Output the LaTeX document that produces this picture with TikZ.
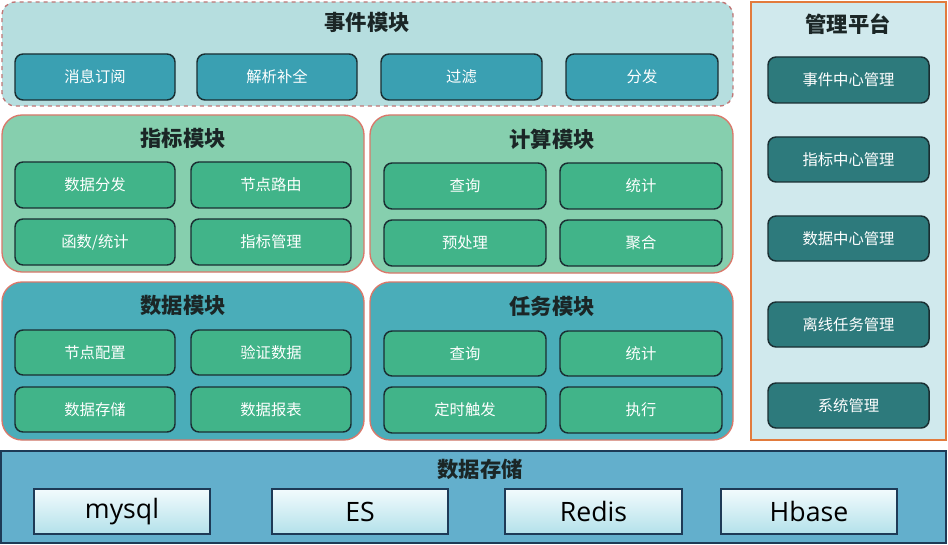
\documentclass[tikz,border=0pt]{standalone}
\usepackage{fontspec}
\setmainfont{Noto Sans CJK SC}
\newfontfamily\latinfont{Open Sans}
\definecolor{evtFill}{HTML}{B6DEDF}
\definecolor{evtBtn}{HTML}{3AA0B2}
\definecolor{evtBorder}{HTML}{C07676}
\definecolor{grnFill}{HTML}{86CFAE}
\definecolor{grnBtn}{HTML}{41B489}
\definecolor{tealFill}{HTML}{4AADB9}
\definecolor{modBorder}{HTML}{D9786A}
\definecolor{mgmtFill}{HTML}{D0E9ED}
\definecolor{mgmtBtn}{HTML}{2D7A7C}
\definecolor{mgmtBorder}{HTML}{E27B3D}
\definecolor{storeFill}{HTML}{63AFCC}
\definecolor{storeBorder}{HTML}{1E3A56}
\definecolor{storeTop}{HTML}{F2FBFD}
\definecolor{storeBot}{HTML}{B3E1EA}
\definecolor{btnBorder}{HTML}{1A2E32}
\definecolor{titleCol}{HTML}{1B2626}
\tikzset{
  box/.style={inner sep=0pt, outer sep=0pt},
  evtframe/.style={box, fill=evtFill, draw=evtBorder, dashed, line width=1pt, rounded corners=10pt},
  grnframe/.style={box, fill=grnFill, draw=modBorder, line width=1pt, rounded corners=15pt},
  tealframe/.style={box, fill=tealFill, draw=modBorder, line width=1pt, rounded corners=15pt},
  mgmtframe/.style={box, fill=mgmtFill, draw=mgmtBorder, line width=1.5pt},
  storeframe/.style={box, fill=storeFill, draw=storeBorder, line width=1.3pt},
  evtbtn/.style={box, fill=evtBtn, draw=btnBorder, line width=1.1pt, rounded corners=6pt, text=white, font=\fontsize{11.5}{13}\selectfont},
  grnbtn/.style={box, fill=grnBtn, draw=btnBorder, line width=1.1pt, rounded corners=6pt, text=white, font=\fontsize{11.5}{13}\selectfont},
  mgmtbtn/.style={box, fill=mgmtBtn, draw=btnBorder, line width=1.1pt, rounded corners=6pt, text=white, font=\fontsize{11.5}{13}\selectfont},
  storebtn/.style={box, top color=storeTop, bottom color=storeBot, draw=storeBorder, line width=1.1pt, text=black, font=\latinfont\fontsize{20}{22}\selectfont},
  title/.style={text=titleCol, font=\bfseries\fontsize{16}{18}\selectfont, inner sep=0pt},
}
% #1 style, #2 x1, #3 y1, #4 x2, #5 y2, #6 name, #7 text
\newcommand\pxbox[7]{\node[#1, minimum width={(#4-#2)*0.75pt}, minimum height={(#5-#3)*0.75pt}] (#6) at ({(#2+#4)/2},{(#3+#5)/2}) {#7};}
\begin{document}
\begin{tikzpicture}[x=0.75pt,y=-0.75pt]
\path[use as bounding box, fill=white] (0,0) rectangle (948,545);
% event module
\pxbox{evtframe}{2}{2}{733}{106}{evt}{}
\node[title] (evtT) at (367,22) {事件模块};
\pxbox{evtbtn}{15}{54}{175}{100}{e1}{消息订阅}
\pxbox{evtbtn}{197}{54}{357}{100}{e2}{解析补全}
\pxbox{evtbtn}{381}{54}{542}{100}{e3}{过滤}
\pxbox{evtbtn}{566}{54}{718}{100}{e4}{分发}
% indicator module
\pxbox{grnframe}{2}{115}{364}{272}{ind}{}
\node[title] (indT) at (183,138) {指标模块};
\pxbox{grnbtn}{15}{162}{175}{208}{i1}{数据分发}
\pxbox{grnbtn}{191}{162}{351}{208}{i2}{节点路由}
\pxbox{grnbtn}{15}{219}{175}{265}{i3}{函数/统计}
\pxbox{grnbtn}{191}{219}{351}{265}{i4}{指标管理}
% compute module
\pxbox{grnframe}{370}{115}{733}{273}{cmp}{}
\node[title] (cmpT) at (552,139) {计算模块};
\pxbox{grnbtn}{384}{163}{546}{209}{c1}{查询}
\pxbox{grnbtn}{560}{163}{722}{209}{c2}{统计}
\pxbox{grnbtn}{384}{220}{546}{266}{c3}{预处理}
\pxbox{grnbtn}{560}{220}{722}{266}{c4}{聚合}
% data module
\pxbox{tealframe}{2}{282}{364}{440}{dat}{}
\node[title] (datT) at (183,305) {数据模块};
\pxbox{grnbtn}{15}{330}{175}{375}{d1}{节点配置}
\pxbox{grnbtn}{191}{330}{351}{375}{d2}{验证数据}
\pxbox{grnbtn}{15}{387}{175}{432}{d3}{数据存储}
\pxbox{grnbtn}{191}{387}{351}{432}{d4}{数据报表}
% task module
\pxbox{tealframe}{370}{282}{733}{440}{tsk}{}
\node[title] (tskT) at (552,306) {任务模块};
\pxbox{grnbtn}{384}{331}{546}{376}{t1}{查询}
\pxbox{grnbtn}{560}{331}{722}{376}{t2}{统计}
\pxbox{grnbtn}{384}{387}{546}{433}{t3}{定时触发}
\pxbox{grnbtn}{560}{387}{722}{433}{t4}{执行}
% management platform
\pxbox{mgmtframe}{751}{2}{946}{440}{mgm}{}
\node[title] (mgmT) at (848,24) {管理平台};
\pxbox{mgmtbtn}{768}{57}{929}{103}{m1}{事件中心管理}
\pxbox{mgmtbtn}{768}{137}{929}{182}{m2}{指标中心管理}
\pxbox{mgmtbtn}{768}{216}{929}{261}{m3}{数据中心管理}
\pxbox{mgmtbtn}{768}{302}{929}{347}{m4}{离线任务管理}
\pxbox{mgmtbtn}{768}{383}{929}{428}{m5}{系统管理}
% storage
\pxbox{storeframe}{1}{451}{946}{543}{sto}{}
\node[title] (stoT) at (480,469) {数据存储};
\pxbox{storebtn}{34}{489}{210}{534}{s1}{mysql}
\pxbox{storebtn}{272}{489}{448}{534}{s2}{ES}
\pxbox{storebtn}{505}{489}{682}{534}{s3}{Redis}
\pxbox{storebtn}{721}{489}{897}{534}{s4}{Hbase}
\end{tikzpicture}
\end{document}
